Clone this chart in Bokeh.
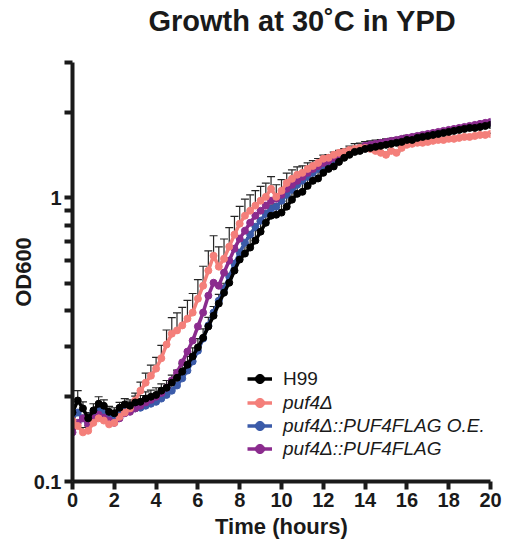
import pandas as pd
from bokeh.plotting import figure
from bokeh.models import (Range1d, FixedTicker, Legend, LegendItem, Whisker,
                          ColumnDataSource, TeeHead, Title)
from bokeh.embed import file_html
from bokeh.resources import INLINE

# ---------------- data ----------------
time_hours = [0, 0.25, 0.5, 0.75, 1, 1.25, 1.5, 1.75, 2, 2.25, 2.5, 2.75, 3, 3.25, 3.5, 3.75,
              4, 4.25, 4.5, 4.75, 5, 5.25, 5.5, 5.75, 6, 6.25, 6.5, 6.75, 7, 7.25, 7.5, 7.75,
              8, 8.25, 8.5, 8.75, 9, 9.25, 9.5, 9.75, 10, 10.25, 10.5, 10.75, 11, 11.25, 11.5,
              11.75, 12, 12.25, 12.5, 12.75, 13, 13.25, 13.5, 13.75, 14, 14.25, 14.5, 14.75,
              15, 15.25, 15.5, 15.75, 16, 16.25, 16.5, 16.75, 17, 17.25, 17.5, 17.75, 18,
              18.25, 18.5, 18.75, 19, 19.25, 19.5, 19.75, 20]

h99 = [0.175, 0.193, 0.181, 0.167, 0.178, 0.188, 0.185, 0.176, 0.174,
       0.182, 0.187, 0.185, 0.190, 0.191, 0.196, 0.199, 0.202,
       0.209, 0.214, 0.223, 0.232, 0.244, 0.258, 0.276, 0.297,
       0.321, 0.352, 0.384, 0.424, 0.463, 0.502, 0.554, 0.606,
       0.636, 0.668, 0.707, 0.760, 0.817, 0.865, 0.872, 0.887,
       0.931, 0.985, 1.033, 1.050, 1.102, 1.148, 1.170, 1.225,
       1.265, 1.290, 1.339, 1.384, 1.418, 1.452, 1.464, 1.488,
       1.500, 1.513, 1.525, 1.538, 1.550, 1.563, 1.575, 1.600,
       1.600, 1.627, 1.640, 1.653, 1.667, 1.680, 1.694, 1.708,
       1.722, 1.736, 1.750, 1.764, 1.764, 1.778, 1.793, 1.808]
h99_sd = [0.012, 0.016, 0.010, 0.008, 0.010, 0.011, 0.009, 0.008, 0.008,
          0.008, 0.009, 0.009, 0.010, 0.010, 0.011, 0.011, 0.012,
          0.012, 0.013, 0.014, 0.015, 0.016, 0.018, 0.020, 0.022,
          0.024, 0.027, 0.030, 0.033, 0.037, 0.040, 0.044, 0.048,
          0.052, 0.056, 0.060, 0.066, 0.072, 0.078, 0.080, 0.084,
          0.088, 0.092, 0.096, 0.100, 0.104, 0.106, 0.108, 0.110,
          0.110, 0.110, 0.108, 0.106, 0.104, 0.100, 0.096, 0.092,
          0.088, 0.084, 0.080, 0.076, 0.072, 0.068, 0.064, 0.060,
          0.056, 0.052, 0.050, 0.048, 0.046, 0.044, 0.042, 0.040,
          0.040, 0.038, 0.038, 0.036, 0.036, 0.034, 0.034, 0.034]

puf4 = [0.164, 0.157, 0.149, 0.151, 0.161, 0.167, 0.164, 0.159, 0.161,
        0.169, 0.175, 0.181, 0.193, 0.209, 0.223, 0.236, 0.250,
        0.272, 0.304, 0.332, 0.341, 0.355, 0.375, 0.394, 0.441,
        0.490, 0.554, 0.625, 0.572, 0.610, 0.673, 0.742, 0.811,
        0.865, 0.901, 0.939, 0.977, 1.008, 1.076, 1.008, 1.059,
        1.129, 1.167, 1.206, 1.225, 1.265, 1.296, 1.328, 1.373,
        1.384, 1.418, 1.441, 1.452, 1.476, 1.488, 1.500, 1.500,
        1.488, 1.464, 1.441, 1.418, 1.464, 1.441, 1.500, 1.538,
        1.550, 1.563, 1.563, 1.575, 1.588, 1.600, 1.600, 1.614,
        1.614, 1.627, 1.640, 1.640, 1.653, 1.667, 1.667, 1.680]
puf4_sd = [0.006, 0.007, 0.006, 0.006, 0.007, 0.008, 0.008, 0.007, 0.007,
           0.008, 0.009, 0.010, 0.012, 0.015, 0.018, 0.021, 0.024,
           0.030, 0.038, 0.046, 0.052, 0.056, 0.060, 0.066, 0.074,
           0.084, 0.096, 0.110, 0.100, 0.106, 0.112, 0.118, 0.122,
           0.124, 0.124, 0.122, 0.120, 0.118, 0.112, 0.104, 0.100,
           0.094, 0.088, 0.080, 0.072, 0.064, 0.056, 0.048, 0.042,
           0.036, 0.032, 0.028, 0.024, 0.020, 0.018, 0.016, 0.014,
           0.012, 0.012, 0.012, 0.012, 0.012, 0.012, 0.012, 0.012,
           0.012, 0.012, 0.012, 0.012, 0.012, 0.012, 0.012, 0.012,
           0.012, 0.012, 0.012, 0.012, 0.012, 0.012, 0.012, 0.012]

puf4_oe = [0.171, 0.175, 0.167, 0.161, 0.175, 0.181, 0.178, 0.172, 0.169,
           0.176, 0.179, 0.178, 0.181, 0.182, 0.185, 0.188, 0.191,
           0.196, 0.202, 0.209, 0.218, 0.231, 0.246, 0.265, 0.289,
           0.319, 0.355, 0.394, 0.434, 0.478, 0.527, 0.586, 0.641,
           0.695, 0.742, 0.791, 0.831, 0.880, 0.916, 0.931, 0.977,
           1.025, 1.067, 1.111, 1.148, 1.186, 1.225, 1.265, 1.296,
           1.328, 1.362, 1.395, 1.418, 1.441, 1.464, 1.488, 1.513,
           1.525, 1.538, 1.550, 1.563, 1.575, 1.588, 1.600, 1.614,
           1.627, 1.640, 1.653, 1.667, 1.680, 1.694, 1.708, 1.722,
           1.736, 1.750, 1.764, 1.778, 1.793, 1.808, 1.823, 1.838]

puf4_flag = [0.149, 0.161, 0.167, 0.159, 0.167, 0.172, 0.168, 0.164, 0.161,
             0.167, 0.174, 0.176, 0.181, 0.185, 0.190, 0.194, 0.199,
             0.205, 0.214, 0.227, 0.242, 0.263, 0.287, 0.314, 0.352,
             0.394, 0.452, 0.502, 0.490, 0.545, 0.601, 0.662, 0.718,
             0.766, 0.817, 0.865, 0.901, 0.939, 0.977, 0.993, 1.025,
             1.076, 1.111, 1.148, 1.186, 1.225, 1.265, 1.296, 1.328,
             1.350, 1.384, 1.406, 1.429, 1.452, 1.476, 1.500, 1.525,
             1.538, 1.550, 1.563, 1.575, 1.588, 1.600, 1.614, 1.627,
             1.640, 1.653, 1.667, 1.680, 1.694, 1.708, 1.722, 1.736,
             1.750, 1.764, 1.778, 1.793, 1.808, 1.823, 1.838, 1.852]

chart_title = "Growth at 30˚C in YPD"
series_labels = ["H99", "puf4Δ", "puf4Δ::PUF4FLAG O.E.", "puf4Δ::PUF4FLAG"]
series_colors = ["#000000", "#F47F7A", "#3B5BA9", "#8B2B8E"]

x_ticks = [0, 2, 4, 6, 8, 10, 12, 14, 16, 18, 20]
y_major_ticks = [0.1, 1]
y_major_labels = ["0.1", "1"]
y_minor_ticks = [0.2, 0.3, 0.4, 0.5, 0.6, 0.7, 0.8, 0.9, 2, 3]

df = pd.DataFrame({"t": time_hours, "h99": h99, "h99_sd": h99_sd,
                   "puf4": puf4, "puf4_sd": puf4_sd,
                   "oe": puf4_oe, "flag": puf4_flag})
df["h99_up"] = df["h99"] + df["h99_sd"]
df["puf4_up"] = df["puf4"] + df["puf4_sd"]
src = ColumnDataSource(df)

FONT = "Liberation Sans"
INK = "#1a1a1a"

p = figure(width=506, height=548, x_range=Range1d(0, 20), y_range=Range1d(0.1, 3),
           y_axis_type="log", output_backend="svg", toolbar_location=None,
           title=None,
           min_border_left=72, min_border_right=16, min_border_top=60,
           min_border_bottom=67)
p.grid.visible = False
p.outline_line_color = None
p.background_fill_color = "white"
p.border_fill_color = "white"

# spacer (nearest the frame) then the real title stacked above it
p.add_layout(Title(text=" ", text_font=FONT, text_font_size="20px", standoff=0), "above")
p.add_layout(Title(text=chart_title, text_font=FONT, text_font_size="29px",
                   text_font_style="bold", text_color=INK, align="left", offset=76,
                   standoff=4), "above")

for ax in (p.xaxis[0], p.yaxis[0]):
    ax.axis_line_width = 4
    ax.axis_line_color = INK
    ax.major_tick_line_width = 4
    ax.major_tick_line_color = INK
    ax.major_tick_out = 8
    ax.major_tick_in = 0
    ax.major_label_text_font = FONT
    ax.major_label_text_font_style = "bold"
    ax.major_label_text_font_size = "20px"
    ax.major_label_text_color = INK
    ax.axis_label_text_font = FONT
    ax.axis_label_text_font_style = "bold"
    ax.axis_label_text_font_size = "22px"
    ax.axis_label_text_color = INK

p.xaxis.ticker = FixedTicker(ticks=x_ticks)
p.xaxis.minor_tick_line_color = None
p.xaxis.major_label_standoff = 3
p.xaxis.axis_label = "Time (hours)"
p.xaxis.axis_label_standoff = 4

p.yaxis.ticker = FixedTicker(ticks=y_major_ticks, minor_ticks=y_minor_ticks)
p.yaxis.major_label_overrides = dict(zip(y_major_ticks, y_major_labels))
p.yaxis.minor_tick_line_width = 4
p.yaxis.minor_tick_line_color = INK
p.yaxis.minor_tick_out = 8
p.yaxis.minor_tick_in = 0
p.yaxis.major_label_standoff = 3
p.yaxis.axis_label = "OD600"
p.yaxis.axis_label_standoff = -5

renderers = {}
for key, lab, col in [("oe", series_labels[2], series_colors[2]),
                      ("flag", series_labels[3], series_colors[3]),
                      ("puf4", series_labels[1], series_colors[1]),
                      ("h99", series_labels[0], series_colors[0])]:
    lr = p.line("t", key, source=src, color=col, line_width=3.5)
    sr = p.scatter("t", key, source=src, color=col, size=7)
    renderers[lab] = [lr, sr]

for key in ("puf4", "h99"):
    w = Whisker(base="t", lower=key, upper=key + "_up", source=src, dimension="height",
                line_color="#262626", line_width=1.2, lower_head=None,
                upper_head=TeeHead(size=8, line_color="#262626", line_width=1.2))
    p.add_layout(w)

legend_style = dict(glyph_width=25, glyph_height=23, label_height=23, label_standoff=11,
                    padding=0, margin=0, spacing=0, border_line_color=None,
                    background_fill_alpha=0, label_text_font=FONT,
                    label_text_font_size="19px", label_text_color=INK)

leg1 = Legend(items=[LegendItem(label=series_labels[0], renderers=renderers[series_labels[0]])],
              location=(175, 91), **legend_style)
leg2 = Legend(items=[LegendItem(label=l, renderers=renderers[l]) for l in series_labels[1:]],
              location=(175, 21), label_text_font_style="italic", **legend_style)
p.add_layout(leg1)
p.add_layout(leg2)

open("out.html", "w").write(file_html(p, INLINE))
